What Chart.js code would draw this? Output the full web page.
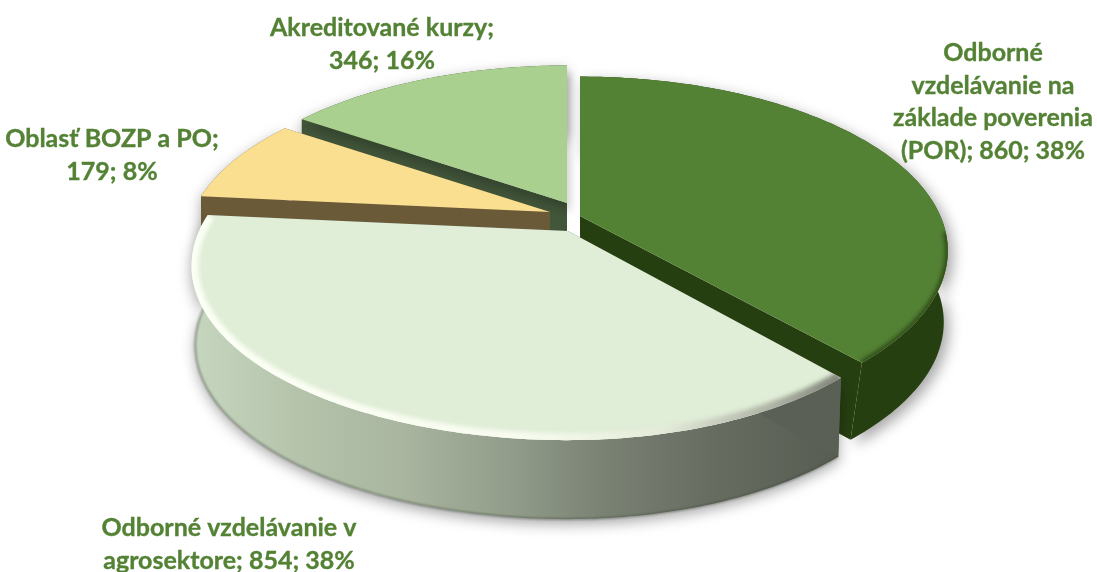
<!DOCTYPE html>
<html>
<head>
<meta charset="utf-8">
<style>html,body{margin:0;padding:0;background:#fff;overflow:hidden}#wrap{position:relative;width:1097px;height:572px}</style>
<script src="https://cdn.jsdelivr.net/npm/chart.js@4"></script>
</head>
<body>
<div id="wrap"><canvas id="c" width="1097" height="572"></canvas></div>
<script>
const categories = ["Odborné vzdelávanie na základe poverenia (POR)", "Odborné vzdelávanie v agrosektore", "Oblasť BOZP a PO", "Akreditované kurzy"];
const values = [860, 854, 179, 346];
const percents = [38, 38, 8, 16];
const faceColors = ["#548235", "#e0edd7", "#fbdf90", "#a9d08e"];
const labelLines = [
  ["Odborné", "vzdelávanie na", "základe poverenia", "(POR); 860; 38%"],
  ["Odborné vzdelávanie v", "agrosektore; 854; 38%"],
  ["Oblasť BOZP a PO;", "179; 8%"],
  ["Akreditované kurzy;", "346; 16%"]
];
const labelPos = [[993, 53], [229, 528], [112, 139], [382, 28]];

// geometry of the exploded perspective view (relative to the arc centre / radius)
const K = 0.2;
const geo = [
  {ox: 31.5, oy: -70, rxL: 1.25, rxR: 1.26, a: 0.585, d: 77, sx: 0.995, shift: -10, edge: "#263f10", wall: "#263f10", rim: "#2f4c17", rimW: 6},
  {ox: 19.5, oy: -55, rxL: 1.29, rxR: 1.22, a: 0.585, d: 79, sx: 0.99, shift: 0, edge: "#5a6055", wall: null, rim: null, rimW: 14},
  {ox: 1.5, oy: -74, rxL: 1.25, rxR: 1.25, a: 0.577, d: 70, sx: 1, shift: 0, edge: "#6b5a38", wall: "#6b5a38", rim: null, rimW: 0},
  {ox: 18.5, oy: -83, rxL: 1.25, rxR: 1.25, a: 0.577, d: 70, sx: 1, shift: 0, edge: "#42563a", wall: "#42563a", rim: null, rimW: 0}
];
const drawOrder = [3, 2, 0, 1];

function proj(g, R, th) {
  const x = Math.sin(th), y = -Math.cos(th), den = 1 - K * y;
  return {dx: (x < 0 ? g.rxL : g.rxR) * R * x / den, dy: g.a * R * y / den};
}
function rimPts(g, arc) {
  const a0 = arc.startAngle + Math.PI / 2, a1 = arc.endAngle + Math.PI / 2;
  const n = Math.max(8, Math.ceil((a1 - a0) * 60)), pts = [];
  for (let i = 0; i <= n; i++) pts.push(proj(g, arc.outerRadius, a0 + (a1 - a0) * i / n));
  return pts;
}

const pie3d = {
  id: "pie3d",
  beforeDatasetsDraw(chart) {
    const ctx = chart.ctx, arcs = chart.getDatasetMeta(0).data;
    const colors = chart.data.datasets[0].backgroundColor;
    drawOrder.forEach(i => {
      const arc = arcs[i], g = geo[i], pts = rimPts(g, arc);
      const cx = arc.x + g.ox, cy = arc.y + g.oy;
      const T = p => [cx + p.dx, cy + p.dy];
      const B = p => [cx + p.dx * g.sx + g.shift * Math.max(0, p.dy) / 147, cy + p.dy + g.d];
      const last = pts[pts.length - 1], first = pts[0];

      const lightWall = ctx.createLinearGradient(195, 0, 845, 0);
      [[0, "#c6d6be"], [0.15, "#b6c4ac"], [0.32, "#a9b59f"], [0.5, "#8f9a88"], [0.62, "#7b8375"], [0.8, "#666c60"], [1, "#575c52"]]
        .forEach(s => lightWall.addColorStop(s[0], s[1]));

      // outer wall
      ctx.save();
      ctx.shadowColor = "rgba(0,0,0,0.35)";
      ctx.shadowBlur = 14;
      ctx.shadowOffsetY = 5;
      ctx.shadowOffsetX = i === 0 ? 5 : 0;
      ctx.beginPath();
      pts.forEach((p, j) => { const q = T(p); j ? ctx.lineTo(q[0], q[1]) : ctx.moveTo(q[0], q[1]); });
      pts.slice().reverse().forEach(p => { const q = B(p); ctx.lineTo(q[0], q[1]); });
      ctx.closePath();
      ctx.fillStyle = g.wall || lightWall;
      ctx.fill();
      ctx.restore();

      // dark line along the foot of the light wall
      if (i === 1) {
        ctx.save();
        ctx.filter = "blur(1px)";
        ctx.beginPath();
        pts.forEach((p, j) => { const q = B(p); j ? ctx.lineTo(q[0], q[1]) : ctx.moveTo(q[0], q[1]); });
        ctx.strokeStyle = "rgba(50,60,45,0.55)";
        ctx.lineWidth = 1.5;
        ctx.stroke();
        ctx.restore();
      }

      // cut faces
      [first, last].forEach(p => {
        const t = T(p), b = B(p), b0 = B({dx: 0, dy: 0});
        ctx.beginPath();
        ctx.moveTo(cx, cy);
        ctx.lineTo(t[0], t[1]);
        ctx.lineTo(b[0], b[1]);
        ctx.lineTo(b0[0], b0[1]);
        ctx.closePath();
        ctx.fillStyle = g.edge;
        ctx.fill();
      });

      // top face
      const face = () => {
        ctx.beginPath();
        ctx.moveTo(cx, cy);
        pts.forEach(p => { const q = T(p); ctx.lineTo(q[0], q[1]); });
        ctx.closePath();
      };
      ctx.save();
      if (i === 3) {
        ctx.shadowColor = "rgba(0,0,0,0.2)";
        ctx.shadowBlur = 10;
        ctx.shadowOffsetX = 3;
        ctx.shadowOffsetY = 8;
      }
      face();
      ctx.fillStyle = colors[i];
      ctx.fill();
      ctx.restore();

      // bevel along the near part of the rim
      if (g.rimW) {
        ctx.save();
        face();
        ctx.clip();
        ctx.filter = "blur(2px)";
        ctx.beginPath();
        const bevelPts = i === 0 ? pts.filter(p => p.dy > 15) : pts;
        bevelPts.forEach((p, j) => { const q = T(p); j ? ctx.lineTo(q[0], q[1]) : ctx.moveTo(q[0], q[1]); });
        if (i === 1) {
          const bev = ctx.createLinearGradient(195, 0, 845, 0);
          [[0, "#fbfff4"], [0.5, "#f8fcf0"], [0.72, "#e4ead9"], [0.9, "#a9aea0"], [1, "#7c8175"]]
            .forEach(s => bev.addColorStop(s[0], s[1]));
          ctx.strokeStyle = bev;
        } else {
          ctx.strokeStyle = g.rim;
        }
        ctx.lineWidth = g.rimW;
        ctx.stroke();
        ctx.restore();
      }
    });
    return false;
  },
  afterDraw(chart) {
    const ctx = chart.ctx;
    ctx.save();
    ctx.font = "bold 25px Lato, sans-serif";
    ctx.fillStyle = "#548235";
    ctx.strokeStyle = "#548235";
    ctx.lineWidth = 0.35;
    ctx.textAlign = "center";
    ctx.textBaseline = "middle";
    labelLines.forEach((lines, i) => {
      lines.forEach((t, j) => {
        ctx.fillText(t, labelPos[i][0], labelPos[i][1] + j * 32.5);
        ctx.strokeText(t, labelPos[i][0], labelPos[i][1] + j * 32.5);
      });
    });
    ctx.restore();
  }
};

new Chart(document.getElementById("c"), {
  type: "pie",
  data: {labels: categories, datasets: [{data: values, backgroundColor: faceColors, borderWidth: 0}]},
  options: {
    responsive: false,
    animation: false,
    layout: {padding: 0},
    plugins: {legend: {display: false}, tooltip: {enabled: false}}
  },
  plugins: [pie3d]
});
</script>
</body>
</html>
